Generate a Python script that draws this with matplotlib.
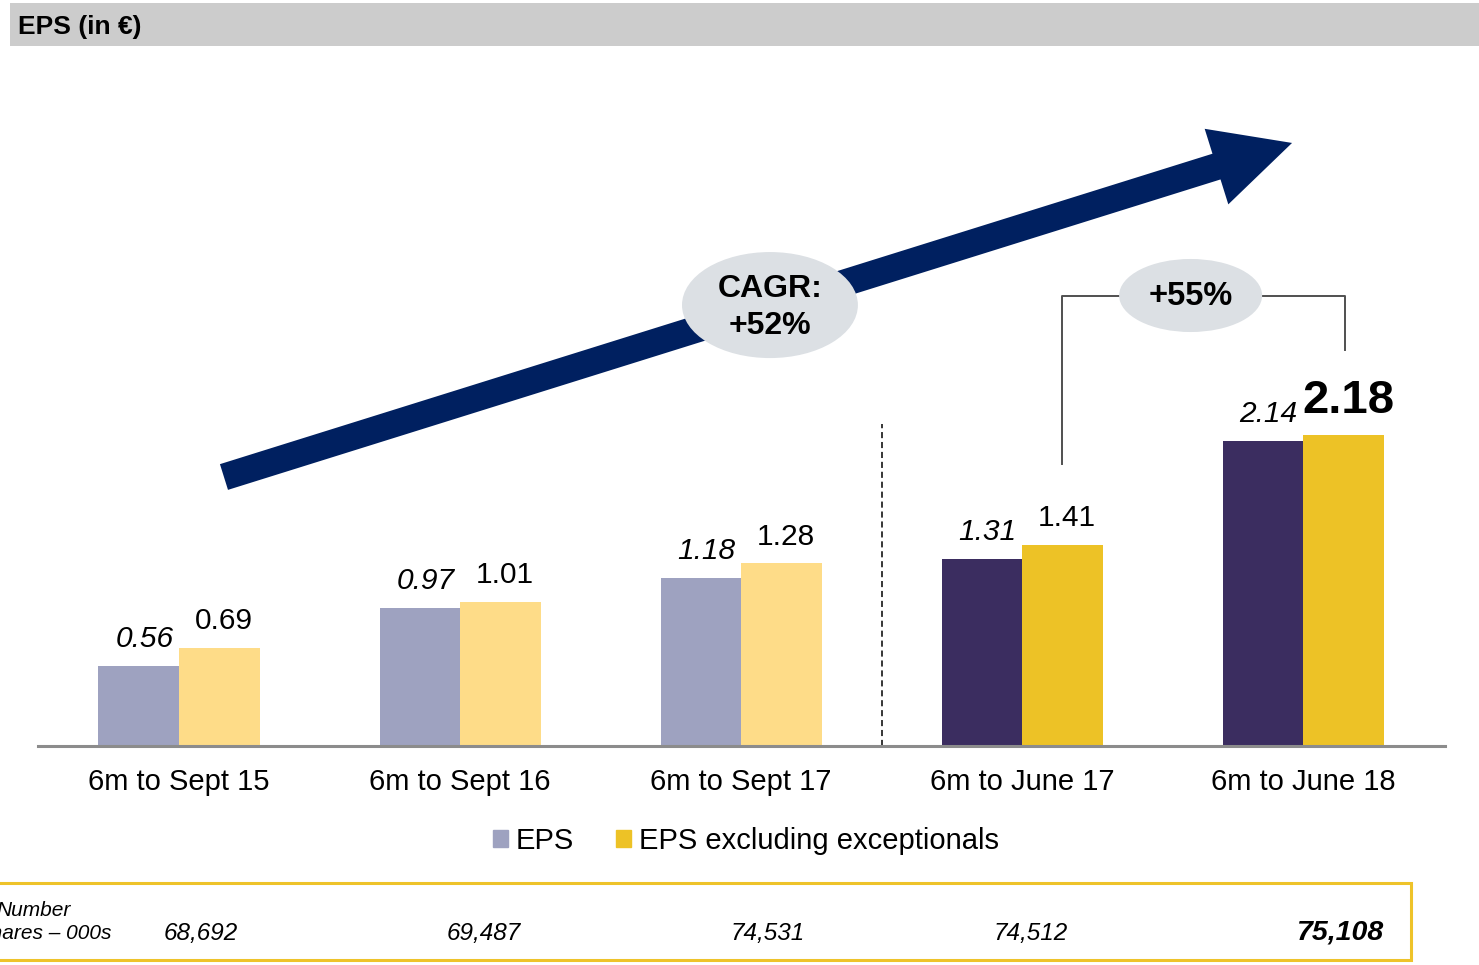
import numpy as np
import matplotlib
matplotlib.use("Agg")
import matplotlib.pyplot as plt
from matplotlib.patches import Ellipse, Rectangle, Patch, ArrowStyle

plt.rcParams['font.family'] = ['Liberation Sans', 'DejaVu Sans']

# data
periods = ["6m to Sept 15", "6m to Sept 16", "6m to Sept 17", "6m to June 17", "6m to June 18"]
eps = [0.56, 0.97, 1.18, 1.31, 2.14]
eps_excl = [0.69, 1.01, 1.28, 1.41, 2.18]
shares = ["68,692", "69,487", "74,531", "74,512", "75,108"]
cagr_text = "CAGR:\n+52%"
growth_text = "+55%"

# colours: the first three periods are pale, the last two solid
eps_cols = ["#9EA2C0", "#9EA2C0", "#9EA2C0", "#3B2D60", "#3B2D60"]
excl_cols = ["#FEDC88", "#FEDC88", "#FEDC88", "#EDC226", "#EDC226"]
navy = "#002060"

W, H = 1479, 965
fig = plt.figure(figsize=(W / 100, H / 100), dpi=100)

# axes placed in pixel terms: baseline at y=746, x from 38 to 1445
ax = fig.add_axes([38 / W, 1 - 746 / H, 1407 / W, 696 / H])
ax.set_xlim(-0.5018, 4.5053)
ax.set_ylim(0, 696 / 142.7)

x = np.arange(len(periods))
bw = 0.2865
ax.bar(x - bw / 2, eps, bw, color=eps_cols, zorder=2)
ax.bar(x + bw / 2, eps_excl, bw, color=excl_cols, zorder=2)

for i in range(len(periods)):
    ax.annotate(f"{eps[i]:.2f}", (x[i] - bw / 2, eps[i]), xytext=(4, 13.5),
                textcoords="offset points", ha="center", va="baseline",
                fontsize=21.5, style="italic")
    if i == len(periods) - 1:
        ax.annotate(f"{eps_excl[i]:.2f}", (x[i] + bw / 2, eps_excl[i]), xytext=(4, 16),
                    textcoords="offset points", ha="center", va="baseline",
                    fontsize=34, fontweight="bold")
    else:
        ax.annotate(f"{eps_excl[i]:.2f}", (x[i] + bw / 2, eps_excl[i]), xytext=(3, 13.5),
                    textcoords="offset points", ha="center", va="baseline",
                    fontsize=21.5)

# axis cosmetics
for s in ["top", "right", "left"]:
    ax.spines[s].set_visible(False)
ax.spines["bottom"].set_color("#8C8C8C")
ax.spines["bottom"].set_linewidth(2.2)
ax.set_yticks([])
ax.set_xticks(x)
ax.set_xticklabels(periods, fontsize=21)
ax.tick_params(axis="x", length=0, pad=16)

# separator between fiscal periods
ax.plot([2.5, 2.5], [0, 2.257], color="black", lw=1.1, ls=(0, (4, 2.5)), zorder=1)

# big growth arrow
ax.annotate("", xy=(3.961, 4.226), xytext=(0.160, 1.885),
            arrowprops=dict(arrowstyle=ArrowStyle.Simple(head_length=57, head_width=57, tail_width=19.4),
                            mutation_scale=1, shrinkA=0, shrinkB=0, color=navy, lw=0),
            zorder=3)
ax.add_patch(Ellipse((2.103, 3.090), 0.626, 0.743, facecolor="#DCE0E4", edgecolor="none", zorder=5))
ax.text(2.103, 3.075, cagr_text, ha="center", va="center", fontsize=23, fontweight="bold",
        linespacing=1.3, zorder=6)

# bracket for +55%
ax.plot([3 + bw / 2, 3 + bw / 2, 4 + bw / 2 + 0.006, 4 + bw / 2 + 0.006],
        [1.976, 3.153, 3.153, 2.775], color="#505050", lw=1.4, zorder=3)
ax.add_patch(Ellipse((3.600, 3.157), 0.509, 0.512, facecolor="#DCE0E4", edgecolor="none", zorder=5))
ax.text(3.600, 3.150, growth_text, ha="center", va="center", fontsize=23.5, fontweight="bold", zorder=6)

# legend
handles = [Patch(color="#9EA2C0", label="EPS"), Patch(color="#EDC226", label="EPS excluding exceptionals")]
fig.legend(handles=handles, loc="center", bbox_to_anchor=(746 / W, 1 - 841 / H), ncol=2,
           frameon=False, fontsize=21, handlelength=0.52, handleheight=0.52,
           handletextpad=0.25, columnspacing=1.45, borderpad=0)

# header band
fig.patches.append(Rectangle((10 / W, 1 - 46 / H), 1 - 10 / W, 43 / H, transform=fig.transFigure,
                             facecolor="#CCCCCC", edgecolor="none", zorder=0))
fig.text(18 / W, 1 - 27 / H, "EPS (in \u20ac)", fontsize=19, fontweight="bold", va="center", ha="left")

# shares table (its left edge runs off the picture, as in the slide)
fig.patches.append(Rectangle((-10 / W, 1 - 960 / H), 1421 / W, 77 / H, transform=fig.transFigure,
                             facecolor="none", edgecolor="#EEC32A", lw=2.2))
fig.text(34 / W, 1 - 922 / H, "Number\nof shares \u2013 000s", fontsize=15, style="italic",
         ha="center", va="center", multialignment="center", linespacing=1.32)
offs = [0.078, 0.085, 0.093, 0.032, 0.132]
trans = matplotlib.transforms.blended_transform_factory(ax.transData, fig.transFigure)
for i, s in enumerate(shares):
    last = i == len(shares) - 1
    fig.text(x[i] + offs[i], 1 - 940 / H, s, transform=trans, ha="center", va="baseline",
             fontsize=20.5 if last else 17.5, style="italic",
             fontweight="bold" if last else "normal")

fig.savefig("out.png", dpi=100)
